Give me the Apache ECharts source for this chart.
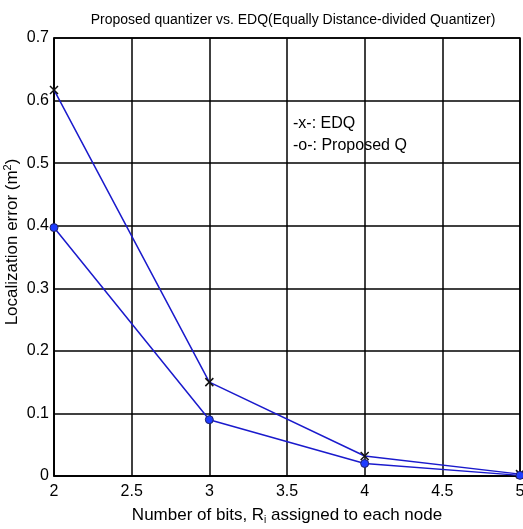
<!DOCTYPE html>
<html><head><meta charset="utf-8">
<script src="https://cdn.jsdelivr.net/npm/echarts@6/dist/echarts.min.js"></script>
<style>html,body{margin:0;padding:0;background:#fff}#c{width:523px;height:529px}</style>
</head><body><div id="c"></div>
<script>
const bits = [2, 3, 4, 5];
const edq = [0.617, 0.150, 0.032, 0.003];
const proposed = [0.397, 0.090, 0.020, 0.001];
const xTicks = [2, 2.5, 3, 3.5, 4, 4.5, 5];
const yTicks = [0, 0.1, 0.2, 0.3, 0.4, 0.5, 0.6, 0.7];

const chart = echarts.init(document.getElementById('c'));
const F = 'Liberation Sans, Arial, sans-serif';
chart.setOption({
  animation: false,
  backgroundColor: '#fff',
  title: {
    text: 'Proposed quantizer vs. EDQ(Equally Distance-divided Quantizer)',
    left: 288, top: 8, textAlign: 'center',
    textStyle: {fontFamily: F, fontSize: 14, fontWeight: 'normal', color: '#000'}
  },
  grid: {left: 54, right: 3, top: 38, bottom: 53, show: true, borderColor: '#000', borderWidth: 1.5, outerBoundsMode: 'none', containLabel: false},
  xAxis: {
    type: 'value', min: 2, max: 5, interval: 0.5,
    name: 'Number of bits, R{sub|i} assigned to each node',
    nameLocation: 'middle', nameGap: 30, nameMoveOverlap: false,
    nameTextStyle: {fontFamily: F, fontSize: 17, color: '#000',
      rich: {sub: {fontFamily: F, fontSize: 10, color: '#000', verticalAlign: 'bottom', padding: [9, 0, 0, 0]}}},
    axisLine: {lineStyle: {color: '#000', width: 1.5}},
    axisTick: {show: false},
    axisLabel: {fontFamily: F, fontSize: 16, color: '#000', margin: 8, showMaxLabel: true, showMinLabel: true,
      formatter: v => xTicks.includes(v) ? String(v) : ''},
    splitLine: {show: true, lineStyle: {color: '#000', width: 1.5}}
  },
  yAxis: {
    type: 'value', min: 0, max: 0.7, interval: 0.1,
    name: 'Localization error (m{sup|2})',
    nameLocation: 'middle', nameGap: 32, nameRotate: 90, nameMoveOverlap: false,
    nameTextStyle: {fontFamily: F, fontSize: 17, color: '#000', padding: [0, 0, 0, 30],
      rich: {sup: {fontFamily: F, fontSize: 11, color: '#000', verticalAlign: 'top', padding: [0, 0, 9, 0]}}},
    axisLine: {lineStyle: {color: '#000', width: 1.5}},
    axisTick: {show: false},
    axisLabel: {fontFamily: F, fontSize: 16, color: '#000', margin: 5, showMaxLabel: true, showMinLabel: true,
      formatter: v => { const t = yTicks.find(x => Math.abs(x - v) < 1e-9); return t === undefined ? '' : (t === 0 ? '0' : t.toFixed(1)); }},
    splitLine: {show: true, lineStyle: {color: '#000', width: 1.5}}
  },
  graphic: [
    {type: 'text', left: 293, top: 116, style: {text: '-x-: EDQ', fontFamily: F, fontSize: 16, fill: '#000'}},
    {type: 'text', left: 293, top: 138, style: {text: '-o-: Proposed Q', fontFamily: F, fontSize: 16, fill: '#000'}}
  ],
  series: [
    {
      type: 'line', name: 'EDQ', data: bits.map((b, i) => [b, edq[i]]),
      clip: false,
      lineStyle: {color: '#1a1acc', width: 1.5},
      symbol: 'path://M0,0L10,10M10,0L0,10', symbolSize: 8,
      itemStyle: {color: 'transparent', borderColor: '#111', borderWidth: 1.5}
    },
    {
      type: 'line', name: 'Proposed', data: bits.map((b, i) => [b, proposed[i]]),
      clip: false,
      lineStyle: {color: '#1a1acc', width: 1.5},
      symbol: 'circle', symbolSize: 8,
      itemStyle: {color: '#1e3cff', borderColor: '#222266', borderWidth: 1}
    }
  ]
});
</script></body></html>
